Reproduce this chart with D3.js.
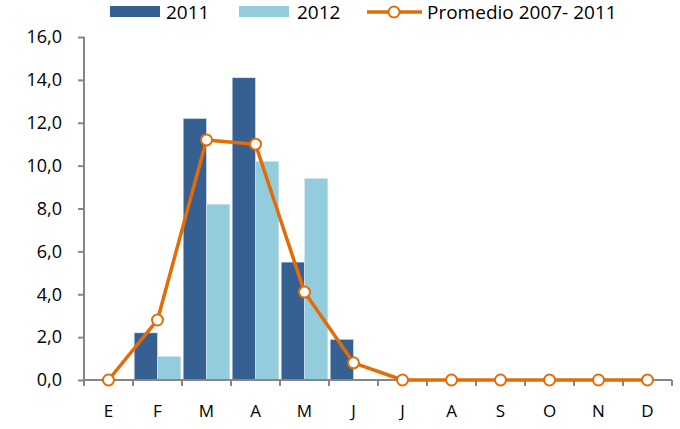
<!DOCTYPE html>
<html>
<head>
<meta charset="utf-8">
<script src="https://cdn.jsdelivr.net/npm/d3@7"></script>
<style>
	body { margin: 0; background: #fff; }
	text { font-family: "Open Sans", "Noto Sans", sans-serif; fill: #000; }
</style>
</head>
<body>
<svg id="chart" width="680" height="429"></svg>
<script>
// data
var months = ["E", "F", "M", "A", "M", "J", "J", "A", "S", "O", "N", "D"];
var serie2011 = [null, 2.2, 12.2, 14.1, 5.5, 1.9, null, null, null, null, null, null];
var serie2012 = [null, 1.1, 8.2, 10.2, 9.4, null, null, null, null, null, null, null];
var promedio = [0, 2.8, 11.2, 11.0, 4.1, 0.8, 0, 0, 0, 0, 0, 0];
var yTicks = [0, 2, 4, 6, 8, 10, 12, 14, 16];

var svg = d3.select("#chart");
var mLeft = 84, mRight = 672, mTop = 37, mBottom = 380;

var idx = d3.range(months.length);
var x = d3.scaleBand().domain(idx).range([mLeft, mRight]);
var y = d3.scaleLinear().domain([0, 16]).range([mBottom, mTop]);
var inner = d3.scaleBand().domain(["2011", "2012"]).range([0, x.bandwidth()]).paddingOuter(0.05);

var fmt = function (v) { return d3.format(".1f")(v).replace(".", ","); };

// bars
var g = svg.append("g");
[["2011", serie2011, "#376092"], ["2012", serie2012, "#93cddd"]].forEach(function (s) {
	g.selectAll(null)
		.data(idx.filter(function (i) { return s[1][i] != null; }))
		.enter().append("rect")
		.attr("x", function (i) { return x(i) + inner(s[0]); })
		.attr("y", function (i) { return y(s[1][i]); })
		.attr("width", inner.bandwidth())
		.attr("height", function (i) { return mBottom - y(s[1][i]); })
		.attr("fill", s[2])
		.attr("stroke", "#dbe6f1")
		.attr("stroke-width", 0.6);
});

// y axis
var yAxis = svg.append("g")
	.attr("transform", "translate(" + mLeft + ",0)")
	.call(d3.axisLeft(y).tickValues(yTicks).tickSize(6).tickPadding(16).tickFormat(fmt));
yAxis.selectAll("text").style("font-size", "18px");

// x axis
var xAxis = svg.append("g")
	.attr("transform", "translate(0," + mBottom + ")")
	.call(d3.axisBottom(x).tickSize(0).tickPadding(25).tickFormat(function (i) { return months[i]; }));
xAxis.selectAll("text").style("font-size", "17px");
xAxis.selectAll(".bnd")
	.data(d3.range(months.length + 1))
	.enter().append("line")
	.attr("x1", function (i) { return mLeft + i * x.bandwidth(); })
	.attr("x2", function (i) { return mLeft + i * x.bandwidth(); })
	.attr("y1", 0).attr("y2", 6);

svg.selectAll(".domain, .tick line, g line").attr("stroke", "#868686").attr("stroke-width", 2);
yAxis.select(".domain").attr("d", "M0," + mTop + "V" + mBottom);
xAxis.select(".domain").attr("d", "M" + mLeft + ",0H" + mRight);

// average line
var line = d3.line()
	.x(function (d, i) { return x(i) + x.bandwidth() / 2; })
	.y(function (d) { return y(d); });

svg.append("path")
	.datum(promedio)
	.attr("d", line)
	.attr("fill", "none")
	.attr("stroke", "#e36c09")
	.attr("stroke-width", 3.5)
	.attr("stroke-linejoin", "round");

svg.selectAll(".pt")
	.data(promedio)
	.enter().append("circle")
	.attr("cx", function (d, i) { return x(i) + x.bandwidth() / 2; })
	.attr("cy", function (d) { return y(d); })
	.attr("r", 5.5)
	.attr("fill", "#fff")
	.attr("stroke", "#e36c09")
	.attr("stroke-width", 2);

// legend
var leg = svg.append("g").style("font-size", "19px");
leg.append("rect").attr("x", 110).attr("y", 6).attr("width", 50).attr("height", 11).attr("fill", "#376092");
leg.append("text").attr("x", 166).attr("y", 19).text("2011");
leg.append("rect").attr("x", 239).attr("y", 6).attr("width", 50).attr("height", 11).attr("fill", "#93cddd");
leg.append("text").attr("x", 297).attr("y", 19).text("2012");
leg.append("line").attr("x1", 367).attr("x2", 422).attr("y1", 12).attr("y2", 12)
	.attr("stroke", "#e36c09").attr("stroke-width", 3.5);
leg.append("circle").attr("cx", 394).attr("cy", 12).attr("r", 5.5)
	.attr("fill", "#fff").attr("stroke", "#e36c09").attr("stroke-width", 2);
leg.append("text").attr("x", 427).attr("y", 19).text("Promedio 2007- 2011");
</script>
</body>
</html>
